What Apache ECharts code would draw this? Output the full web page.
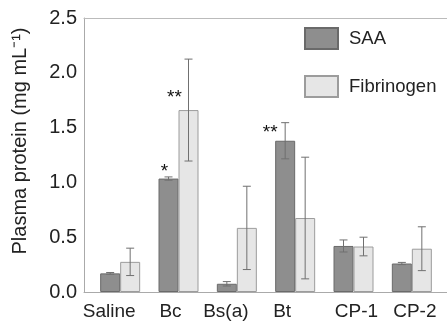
<!DOCTYPE html>
<html>
<head>
<meta charset="utf-8">
<script src="https://cdn.jsdelivr.net/npm/echarts@6/dist/echarts.min.js"></script>
<style>
  html, body { margin: 0; padding: 0; background: #fff; }
  #chart { width: 447px; height: 322px; }
</style>
</head>
<body>
<div id="chart"></div>
<script>
const groups = ['Saline', 'Bc', 'Bs(a)', 'Bt', 'CP-1', 'CP-2']
const saaMean = [0.17, 1.035, 0.075, 1.38, 0.42, 0.26]
const saaErr = [0.008, 0.015, 0.02, 0.165, 0.055, 0.01]
const fibMean = [0.275, 1.66, 0.585, 0.675, 0.415, 0.395]
const fibErr = [0.125, 0.465, 0.38, 0.555, 0.085, 0.2]
const saaStars = ['', '*', '', '**', '', '']
const fibStars = ['', '**', '', '', '', '']
const yTicks = [0, 0.5, 1.0, 1.5, 2.0, 2.5]

const font = 'Liberation Sans, Arial, sans-serif'
const barW = 20

// where the star labels sit relative to their bar
const starOffset = {
  'saa-1': [-4, 3],
  'saa-3': [-15, 2],
  'fib-1': [-14, -3]
}
// the group names in the original are not centred under their bars
const labelShift = [-11, -8, -11, -13, 3, 3]

function barData(means, stars, key) {
  return means.map((v, i) => {
    let item = { value: v }
    if (stars[i]) {
      item.label = {
        show: true,
        formatter: stars[i],
        position: 'top',
        distance: 0,
        offset: starOffset[key + '-' + i] || [0, 0],
        fontSize: 19,
        fontFamily: font,
        color: '#111'
      }
    }
    return item
  })
}

function errSeries(means, errs, shift) {
  return {
    type: 'custom',
    xAxisIndex: 2,
    yAxisIndex: 1,
    z: 5,
    silent: true,
    data: means.map((v, i) => [i, v - errs[i], v + errs[i]]),
    renderItem: function (params, api) {
      let lo = api.coord([api.value(0), api.value(1)])
      let hi = api.coord([api.value(0), api.value(2)])
      let x = lo[0] + shift
      let cap = 4
      let st = { stroke: '#707070', lineWidth: 1 }
      return {
        type: 'group',
        children: [
          { type: 'line', shape: { x1: x, y1: lo[1], x2: x, y2: hi[1] }, style: st },
          { type: 'line', shape: { x1: x - cap, y1: lo[1], x2: x + cap, y2: lo[1] }, style: st },
          { type: 'line', shape: { x1: x - cap, y1: hi[1], x2: x + cap, y2: hi[1] }, style: st }
        ]
      }
    }
  }
}

let rich = {}
labelShift.forEach((s, i) => {
  rich['g' + i] = {
    fontSize: 19, fontFamily: font, color: '#222',
    padding: s < 0 ? [0, -2 * s, 0, 0] : [0, 0, 0, 2 * s]
  }
})

const chart = echarts.init(document.getElementById('chart'))

chart.setOption({
  animation: false,
  backgroundColor: '#fff',
  grid: [
    { left: 84, right: 0, top: 18, bottom: 30 },
    { left: 91, right: 6, top: 18, bottom: 30 }
  ],
  legend: {
    orient: 'vertical',
    left: 304,
    top: 27,
    padding: 0,
    icon: 'rect',
    itemWidth: 33,
    itemHeight: 21,
    itemGap: 25,
    textStyle: { fontSize: 18.5, fontFamily: font, color: '#222', padding: [0, 0, 0, 6] },
    data: ['SAA', 'Fibrinogen']
  },
  xAxis: [
    {
      gridIndex: 0, type: 'value', min: 0, max: 1, position: 'bottom',
      axisLine: { show: true, lineStyle: { color: '#aaa' } },
      axisTick: { show: false }, axisLabel: { show: false }, splitLine: { show: false }
    },
    {
      gridIndex: 0, type: 'value', min: 0, max: 1, position: 'top',
      axisLine: { show: true, lineStyle: { color: '#bbb' } },
      axisTick: { show: false }, axisLabel: { show: false }, splitLine: { show: false }
    },
    {
      gridIndex: 1, type: 'category', data: groups,
      axisLine: { show: false }, axisTick: { show: false },
      axisLabel: {
        fontSize: 19, fontFamily: font, color: '#222', margin: 10, interval: 0,
        formatter: (v, i) => '{g' + i + '|' + v + '}',
        rich: rich
      }
    }
  ],
  yAxis: [
    {
      gridIndex: 0, type: 'value', min: 0, max: 2.5, interval: 0.5,
      name: 'Plasma protein (mg mL\u207B\u00B9)',
      nameLocation: 'middle',
      nameRotate: 90,
      nameGap: 54,
      nameTextStyle: { fontSize: 20, fontFamily: font, color: '#222', padding: [0, 0, 0, 28] },
      axisLine: { show: true, lineStyle: { color: '#aaa' } },
      axisTick: { show: false },
      splitLine: { show: false },
      axisLabel: {
        fontSize: 20, fontFamily: font, color: '#222', margin: 7,
        customValues: yTicks,
        formatter: v => v.toFixed(1)
      }
    },
    {
      gridIndex: 1, type: 'value', min: 0, max: 2.5, show: false
    }
  ],
  series: [
    {
      name: 'SAA', type: 'bar', xAxisIndex: 2, yAxisIndex: 1,
      barWidth: barW, barGap: '0%',
      itemStyle: { color: '#8e8e8e', borderColor: '#6a6a6a', borderWidth: 1 },
      data: barData(saaMean, saaStars, 'saa')
    },
    {
      name: 'Fibrinogen', type: 'bar', xAxisIndex: 2, yAxisIndex: 1,
      barWidth: barW, barGap: '0%',
      itemStyle: { color: '#e6e6e6', borderColor: '#9c9c9c', borderWidth: 1 },
      data: barData(fibMean, fibStars, 'fib')
    },
    errSeries(saaMean, saaErr, -barW / 2),
    errSeries(fibMean, fibErr, barW / 2)
  ]
})
</script>
</body>
</html>
